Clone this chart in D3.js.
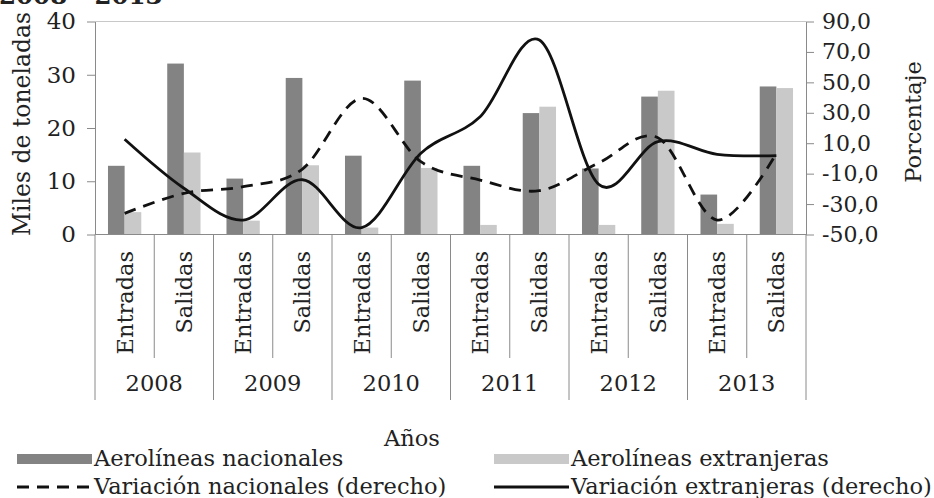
<!DOCTYPE html>
<html>
<head>
<meta charset="utf-8">
<script src="https://cdn.jsdelivr.net/npm/d3@7"></script>
<style>
  html, body { margin: 0; padding: 0; background: #fff; }
  svg { display: block; }
  text { font-family: "DejaVu Serif", serif; fill: #222; }
</style>
</head>
<body>
<svg id="chart" width="934" height="498"></svg>
<script>
// Carga aérea por aerolíneas, 2008 - 2013
const years = ["2008", "2009", "2010", "2011", "2012", "2013"];
const flows = ["Entradas", "Salidas"];

// Miles de toneladas (eje izquierdo), en orden año/flujo
const nacionales  = [12.9, 32.1, 10.5, 29.4, 14.8, 28.9, 12.9, 22.8, 12.4, 25.9, 7.5, 27.8];
const extranjeras = [4.2, 15.4, 2.6, 13.0, 1.3, 12.5, 1.8, 24.0, 1.8, 27.0, 2.0, 27.5];

// Variación porcentual (eje derecho)
const varNacionales  = [-36.1, -22.9, -18.6, -7.0, 39.5, -2.1, -14.2, -21.2, -3.0, 13.6, -40.5, 3.4];
const varExtranjeras = [12.6, -19.6, -40.5, -14.0, -45.5, 3.4, 27.4, 77.8, -17.0, 11.0, 2.7, 1.8];

const leftTicks  = [0, 10, 20, 30, 40];
const rightTicks = [-50, -30, -10, 10, 30, 50, 70, 90];

const svg = d3.select("#chart");
const plotL = 95, plotR = 806, plotT = 21.5, plotB = 234.5;

const cats = [];
years.forEach(y => flows.forEach(f => cats.push({ year: y, flow: f, key: y + "-" + f })));

const x = d3.scaleBand().domain(cats.map(d => d.key)).range([plotL, plotR]).padding(0);
const inner = d3.scaleBand().domain(["nac", "ext"]).range([0, x.bandwidth()])
  .paddingInner(0).paddingOuter(0.78);
const yL = d3.scaleLinear().domain([0, 40]).range([plotB, plotT]);
const yR = d3.scaleLinear().domain([-50, 90]).range([plotB, plotT]);

const fmt = d => d3.format(".1f")(d).replace(".", ",").replace("−", "-");

// borde superior del área de trazado
svg.append("line").attr("x1", plotL).attr("x2", plotR).attr("y1", plotT).attr("y2", plotT)
  .attr("stroke", "#c8c8c8").attr("stroke-width", 1);

// barras
const barData = cats.map((c, i) => ({ c, nac: nacionales[i], ext: extranjeras[i] }));
const g = svg.append("g");
g.selectAll("rect.nac").data(barData).join("rect").attr("class", "nac")
  .attr("x", d => x(d.c.key) + inner("nac"))
  .attr("width", inner.bandwidth())
  .attr("y", d => yL(d.nac))
  .attr("height", d => yL(0) - yL(d.nac))
  .attr("fill", "#838383");
g.selectAll("rect.ext").data(barData).join("rect").attr("class", "ext")
  .attr("x", d => x(d.c.key) + inner("ext"))
  .attr("width", inner.bandwidth())
  .attr("y", d => yL(d.ext))
  .attr("height", d => yL(0) - yL(d.ext))
  .attr("fill", "#c9c9c9");

// eje izquierdo
const axL = svg.append("g").attr("transform", `translate(${plotL},0)`)
  .call(d3.axisLeft(yL).tickValues(leftTicks).tickSize(8).tickSizeOuter(0).tickPadding(11));
axL.select(".domain").attr("stroke", "#8a8a8a");
axL.selectAll(".tick line").attr("stroke", "#8a8a8a");
axL.selectAll("text").style("font-size", "23px").attr("fill", "#222");

// eje derecho
const axR = svg.append("g").attr("transform", `translate(${plotR},0)`)
  .call(d3.axisRight(yR).tickValues(rightTicks).tickFormat(fmt).tickSize(8).tickSizeOuter(0).tickPadding(8));
axR.select(".domain").attr("stroke", "#8a8a8a");
axR.selectAll(".tick line").attr("stroke", "#8a8a8a");
axR.selectAll("text").style("font-size", "22px").attr("fill", "#222");

// eje de categorías
const catG = svg.append("g");
catG.append("line").attr("x1", plotL).attr("x2", plotR).attr("y1", plotB).attr("y2", plotB)
  .attr("stroke", "#8a8a8a");
cats.forEach((c, i) => {
  const x0 = x(c.key);
  const isYearEdge = i % 2 === 0;
  catG.append("line").attr("x1", x0).attr("x2", x0)
    .attr("y1", plotB).attr("y2", isYearEdge ? 400 : 358)
    .attr("stroke", "#8a8a8a");
  catG.append("text")
    .attr("transform", `translate(${x0 + x.bandwidth() / 2 + 8},251) rotate(-90)`)
    .attr("text-anchor", "end")
    .style("font-size", "22.5px")
    .text(c.flow);
});
catG.append("line").attr("x1", plotR).attr("x2", plotR).attr("y1", plotB).attr("y2", 400)
  .attr("stroke", "#8a8a8a");
years.forEach(yr => {
  const cx = x(yr + "-Entradas") + x.bandwidth();
  catG.append("text").attr("x", cx).attr("y", 391).attr("text-anchor", "middle")
    .style("font-size", "22.5px").text(yr);
});

// líneas de variación
const line = d3.line()
  .x((d, i) => x(cats[i].key) + x.bandwidth() / 2)
  .y(d => yR(d))
  .curve(d3.curveCardinal.tension(0));
svg.append("path").datum(varNacionales).attr("d", line)
  .attr("fill", "none").attr("stroke", "#111").attr("stroke-width", 2.8)
  .attr("stroke-dasharray", "12,8");
svg.append("path").datum(varExtranjeras).attr("d", line)
  .attr("fill", "none").attr("stroke", "#111").attr("stroke-width", 2.8);

// títulos de ejes
svg.append("text").attr("transform", "translate(30,124) rotate(-90)")
  .attr("text-anchor", "middle").style("font-size", "23.5px").text("Miles de toneladas");
svg.append("text").attr("transform", "translate(921,122) rotate(-90)")
  .attr("text-anchor", "middle").style("font-size", "22.5px").text("Porcentaje");
svg.append("text").attr("x", 412).attr("y", 446).attr("text-anchor", "middle")
  .style("font-size", "22.5px").text("Años");

// título (parcialmente fuera del lienzo)
svg.append("text").attr("x", -1).attr("y", 3.5).style("font-size", "24.5px")
  .style("font-weight", "bold").text("2008 - 2013");

// leyenda
const legend = [
  { label: "Aerolíneas nacionales", type: "bar", color: "#838383", x: 17, y: 459 },
  { label: "Aerolíneas extranjeras", type: "bar", color: "#c9c9c9", x: 494, y: 459 },
  { label: "Variación nacionales (derecho)", type: "dash", x: 17, y: 487 },
  { label: "Variación extranjeras (derecho)", type: "solid", x: 494, y: 487 }
];
legend.forEach(l => {
  if (l.type === "bar") {
    svg.append("rect").attr("x", l.x).attr("y", l.y - 5).attr("width", 75).attr("height", 10)
      .attr("fill", l.color);
  } else {
    svg.append("line").attr("x1", l.x).attr("x2", l.x + 75).attr("y1", l.y).attr("y2", l.y)
      .attr("stroke", "#111").attr("stroke-width", 2.8)
      .attr("stroke-dasharray", l.type === "dash" ? "12,8" : null);
  }
  svg.append("text").attr("x", l.x + 77).attr("y", l.y + 7)
    .style("font-size", "22.5px").text(l.label);
});
</script>
</body>
</html>
